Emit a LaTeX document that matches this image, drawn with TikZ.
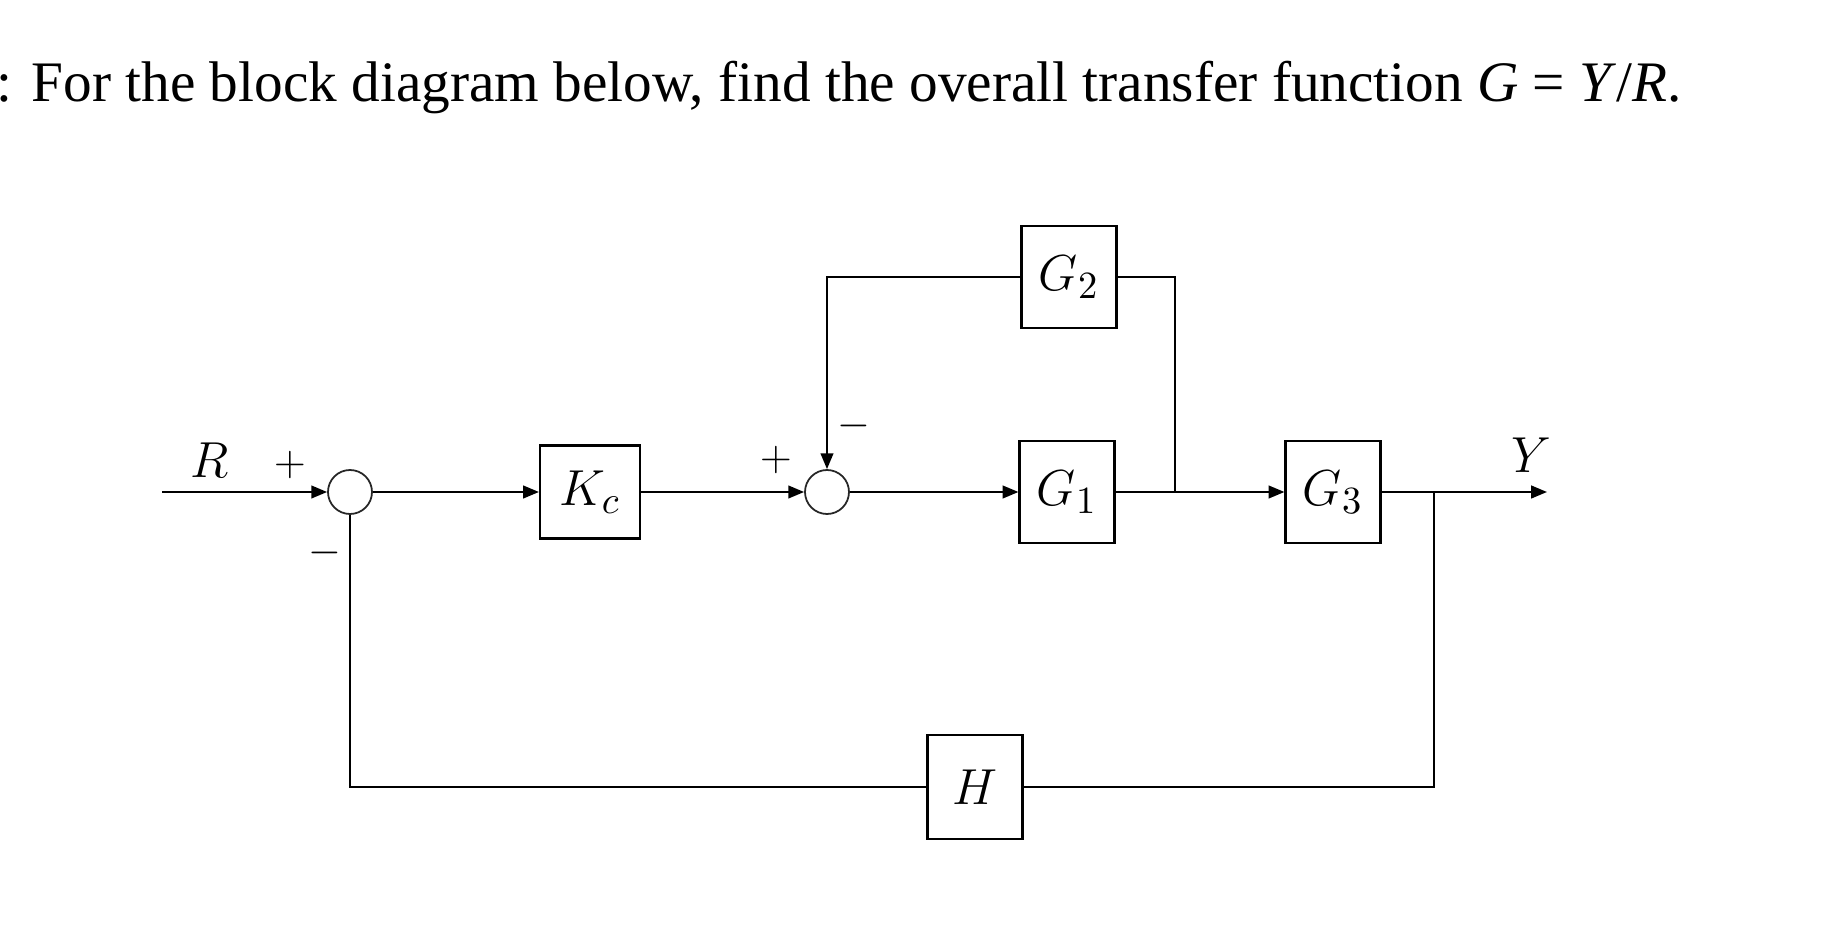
\documentclass[tikz,border=0pt]{standalone}
\usepackage{amsmath}
\usepackage{fontspec}
\setmainfont{Liberation Serif}
\usetikzlibrary{arrows.meta}

\begin{document}
\begin{tikzpicture}[
	block/.style={shape=rectangle,draw=black,line width=0.6pt,minimum width=0.95cm,minimum height=1.02cm,inner sep=0pt,font=\fontsize{15}{18}\selectfont},
	sum/.style={shape=circle,draw=black!85,line width=0.5pt,minimum size=0.44cm,inner sep=0pt},
	wire/.style={line width=0.6pt},
	sig/.style={line width=0.6pt,-{Triangle[length=4.5pt,width=3.6pt]}},
	lbl/.style={inner sep=0pt,font=\fontsize{15}{18}\selectfont},
	sgn/.style={inner sep=0pt,font=\fontsize{12}{14}\selectfont}
]
	\useasboundingbox (0,0) rectangle (18.32,9.32);

	\node[anchor=base west,inner sep=0pt,font=\fontsize{16.3}{20}\selectfont] (title) at (-0.04,8.30) {: For the block diagram below, find the overall transfer function \textit{G} = \textit{Y}/\textit{R}.};

	% forward path
	\coordinate (r) at (1.62,4.40);
	\node[sum] (e1) at (3.50,4.40) {};
	\node[block,minimum width=1.0cm,minimum height=0.93cm] (kc) at (5.90,4.40) {$K_c$};
	\node[sum] (e2) at (8.27,4.40) {};
	\node[block] (g1) at (10.67,4.40) {$G_1$};
	\node[block] (g2) at (10.69,6.55) {$G_2$};
	\node[block] (g3) at (13.33,4.40) {$G_3$};
	\node[block,minimum height=1.04cm] (h) at (9.75,1.45) {$H$};
	\coordinate (b1) at (11.75,4.40);
	\coordinate (b2) at (14.34,4.40);
	\coordinate (y) at (15.47,4.40);

	% labels and signs
	\node[lbl] (rl) at (2.10,4.72) {$R$};
	\node[lbl] (yl) at (15.31,4.77) {$Y$};
	\node[sgn] (p1) at (2.90,4.67) {$+$};
	\node[sgn] (m1) at (3.25,3.79) {$-$};
	\node[sgn] (p2) at (7.76,4.72) {$+$};
	\node[sgn] (m2) at (8.54,5.06) {$-$};

	\path[sig] (r) edge (e1);
	\path[sig] (e1) edge (kc);
	\path[sig] (kc) edge (e2);
	\path[sig] (e2) edge (g1);
	\path[wire] (g1) edge (b1);
	\path[sig] (b1) edge (g3);
	\path[wire] (g3) edge (b2);
	\path[sig] (b2) edge (y);

	% inner loop
	\draw[wire] (b1) |- (g2);
	\draw[sig] (g2) -| (e2);

	% outer loop
	\draw[wire] (b2) |- (h);
	\draw[wire] (h) -| (e1);
\end{tikzpicture}
\end{document}
